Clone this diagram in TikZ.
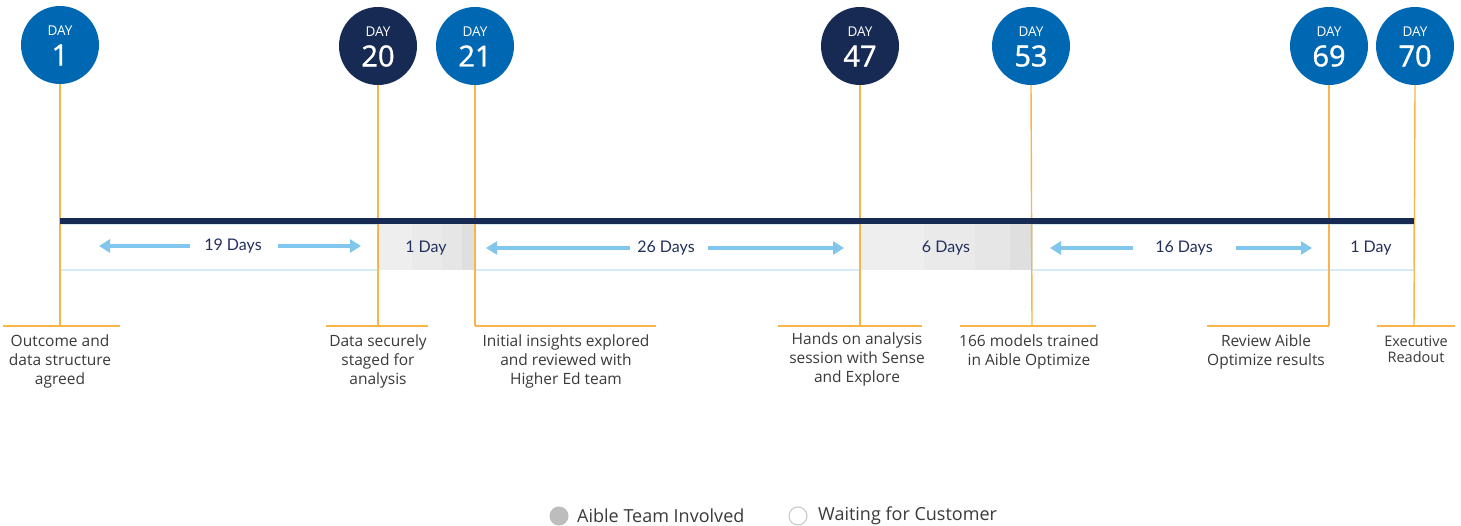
\documentclass[tikz,border=0pt]{standalone}
\usepackage{fontspec}
\setmainfont{Open Sans}
\newfontfamily\lab{Open Sans}
\newfontfamily\seg{Lato}
\newfontfamily\numfont[FakeBold=1.2]{Open Sans}
\usetikzlibrary{arrows.meta}
\definecolor{dblue}{HTML}{0068B3}
\definecolor{dnavy}{HTML}{172A54}
\definecolor{org}{HTML}{F7B54A}
\definecolor{lblue}{HTML}{80C6ED}
\definecolor{bord}{HTML}{D5EBF8}
\definecolor{txt}{HTML}{3A3A3A}
\definecolor{daytxt}{HTML}{22305C}
\definecolor{g1c}{HTML}{EEEEEE}
\definecolor{g2c}{HTML}{EAEAEA}
\definecolor{g3c}{HTML}{E6E6E6}
\definecolor{g4c}{HTML}{DFDFDF}
\definecolor{legg}{HTML}{BDBDBD}
\tikzset{
  daycirc/.style={circle,minimum size=78pt,inner sep=0pt},
  daysmall/.style={text=white,font=\fontsize{13.5}{13.5}\selectfont,inner sep=0pt},
  daybig/.style={text=white,font=\numfont\fontsize{29}{29}\selectfont,inner sep=0pt},
  tickline/.style={draw=org,line width=1.4pt},
  segwhite/.style={draw=bord,line width=1.2pt,fill=white},
  segtxt/.style={text=daytxt,font=\seg\fontsize{16}{16}\selectfont,inner sep=2pt},
  lbl/.style={text=txt,align=center,font=\lab\fontsize{15.5}{19}\selectfont,inner sep=0pt},
  arr/.style={draw=lblue,line width=4.5pt,-{Triangle[width=13pt,length=11pt]}},
  legtxt/.style={text=txt,font=\lab\fontsize{18}{18}\selectfont,anchor=west,inner sep=0pt}
}
\begin{document}
\begin{tikzpicture}[x=1pt,y=-1pt]
\useasboundingbox[fill=white] (0,0) rectangle (1461,526);
% segments
\path[segwhite] (60,224) rectangle (378,270);
\fill[g1c] (378,224) rectangle (412,270);
\fill[g2c] (412,224) rectangle (442,270);
\fill[g3c] (442,224) rectangle (462,270);
\fill[g4c] (462,224) rectangle (475,270);
\path[segwhite] (475,224) rectangle (860,270);
\fill[g1c] (860,224) rectangle (924,270);
\fill[g2c] (924,224) rectangle (975,270);
\fill[g3c] (975,224) rectangle (1010,270);
\fill[g4c] (1010,224) rectangle (1032,270);
\path[segwhite] (1032,224) rectangle (1329,270);
\path[segwhite] (1329,224) rectangle (1414,270);
% circles
\foreach \n/\x/\y/\c in {1/60/45/dblue,20/378/46/dnavy,21/475/46/dblue,47/860/46/dnavy,53/1031/46/dblue,69/1329/46/dblue,70/1415/46/dblue}{
  \node[daycirc,fill=\c] (c\n) at (\x,\y) {};
  \node[daysmall] (t\n) at ([yshift=14pt]c\n.center) {DAY};
  \node[daybig] (n\n) at ([yshift=-10pt]c\n.center) {\n};
}
% feet
\coordinate (f1) at (60,326);
\coordinate (f20) at (378,326);
\coordinate (f21) at (475,326);
\coordinate (f47) at (860,326);
\coordinate (f53) at (1032,326);
\coordinate (f69) at (1329,326);
\coordinate (f70) at (1414,326);
\foreach \n in {1,20,21,47,53,69,70}{\draw[tickline] (c\n.south) -- (f\n);}
\draw[tickline] (3,326) -- (120,326);
\draw[tickline] (326,326) -- (428,326);
\draw[tickline] (475,326) -- (656,326);
\draw[tickline] (778,326) -- (922,326);
\draw[tickline] (960,326) -- (1096,326);
\draw[tickline] (1207,326) -- (1329,326);
\draw[tickline] (1377,326) -- (1455,326);
% main bar
\coordinate (b0) at (60,221);
\coordinate (b1) at (1414,221);
\draw[dnavy,line width=6.5pt] (b0) -- (b1);
% segment labels
\node[segtxt] (s1) at (233,246) {19 Days};
\node[segtxt] (s2) at (426,248) {1 Day};
\node[segtxt] (s3) at (666,248) {26 Days};
\node[segtxt] (s4) at (946,248) {6 Days};
\node[segtxt] (s5) at (1184,248) {16 Days};
\node[segtxt] (s6) at (1371,248) {1 Day};
% arrows
\coordinate (a1l) at (190,246); \coordinate (a1lh) at (99,246);
\coordinate (a1r) at (278,246); \coordinate (a1rh) at (361,246);
\draw[arr] (a1l) -- (a1lh);
\draw[arr] (a1r) -- (a1rh);
\coordinate (a3l) at (630,248); \coordinate (a3lh) at (486,248);
\coordinate (a3r) at (708,248); \coordinate (a3rh) at (844,248);
\draw[arr] (a3l) -- (a3lh);
\draw[arr] (a3r) -- (a3rh);
\coordinate (a5l) at (1133,248); \coordinate (a5lh) at (1050,248);
\coordinate (a5r) at (1236,248); \coordinate (a5rh) at (1312,248);
\draw[arr] (a5l) -- (a5lh);
\draw[arr] (a5r) -- (a5rh);
% labels
\node[lbl] (l1) at (60,361) {Outcome and\\data structure\\agreed};
\node[lbl] (l20) at (378,361) {Data securely\\staged for\\analysis};
\node[lbl] (l21) at (566,361) {Initial insights explored\\and reviewed with\\Higher Ed team};
\node[lbl] (l47) at (857,359) {Hands on analysis\\session with Sense\\and Explore};
\node[lbl] (l53) at (1029,351.5) {166 models trained\\in Aible Optimize};
\node[lbl] (l69) at (1266,351.5) {Review Aible\\Optimize results};
\node[lbl,font=\lab\fontsize{14.5}{16.5}\selectfont] (l70) at (1416,349.5) {Executive\\Readout};
% legend
\node[circle,fill=legg,minimum size=19pt,inner sep=0pt] (g1) at (559,516) {};
\node[legtxt] (g1t) at (577,516) {Aible Team Involved};
\node[circle,draw=gray!45,line width=1pt,fill=white,minimum size=18pt,inner sep=0pt] (g2) at (798,516) {};
\node[legtxt] (g2t) at (818,516) {Waiting for Customer};
\end{tikzpicture}
\end{document}
